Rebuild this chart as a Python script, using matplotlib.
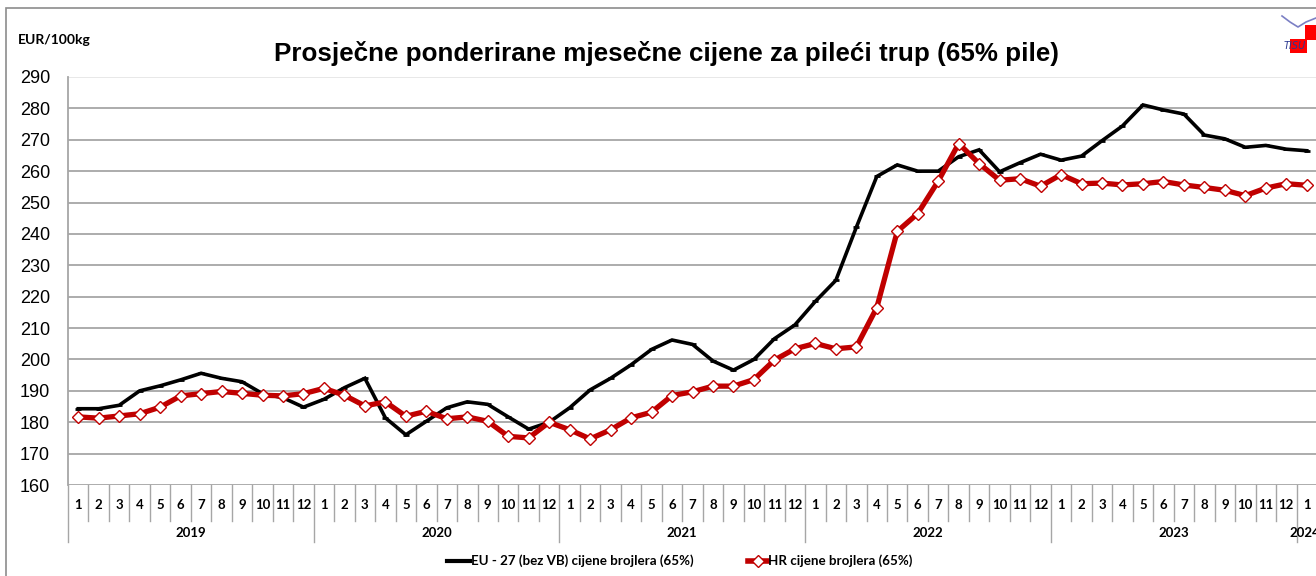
import matplotlib
matplotlib.use("Agg")
import matplotlib.pyplot as plt
from matplotlib.patches import Rectangle
from matplotlib.lines import Line2D

years = ["2019", "2020", "2021", "2022", "2023", "2024"]
months_per_year = [12, 12, 12, 12, 12, 1]
month_labels = [str(m) for n in months_per_year for m in range(1, n + 1)]

eu = [184.3, 184.3, 185.4, 190.0, 191.6, 193.5, 195.6, 194.0, 192.9, 189.1, 187.8, 184.8,
      187.3, 191.0, 194.0, 181.4, 176.0, 180.3, 184.6, 186.5, 185.7, 181.7, 177.8, 180.0,
      184.6, 190.3, 194.0, 198.3, 203.2, 206.2, 204.8, 199.5, 196.6, 200.0, 206.6, 211.0,
      218.5, 225.2, 242.1, 258.3, 262.0, 260.0, 260.0, 264.6, 266.8, 259.8, 262.7, 265.4,
      263.5, 264.8, 269.7, 274.4, 281.1, 279.5, 278.2, 271.5, 270.3, 267.6, 268.2, 267.0,
      266.5]
hr = [181.7, 181.3, 182.0, 182.7, 184.8, 188.4, 189.1, 189.8, 189.2, 188.6, 188.4, 189.1,
      190.8, 188.6, 185.2, 186.5, 181.9, 183.5, 181.1, 181.7, 180.3, 175.5, 175.0, 180.0,
      177.6, 174.7, 177.6, 181.4, 183.2, 188.5, 189.7, 191.5, 191.5, 193.6, 199.8, 203.4,
      205.1, 203.4, 204.0, 216.5, 240.8, 246.5, 256.8, 268.8, 262.4, 257.1, 257.6, 255.2,
      258.9, 256.0, 256.2, 255.6, 256.0, 256.7, 255.6, 254.8, 253.9, 252.2, 254.6, 256.0,
      255.5]
yticks = list(range(160, 291, 10))

title = "Prosječne ponderirane mjesečne cijene za pileći trup (65% pile)"
unit = "EUR/100kg"
eu_label = "EU - 27 (bez VB) cijene brojlera (65%)"
hr_label = "HR cijene brojlera (65%)"

W, H = 1316, 576
fig = plt.figure(figsize=(W / 100, H / 100), dpi=100)
fig.patch.set_facecolor("white")

# axes geometry in pixels
L, R, T, B = 68, 1317, 77, 485
ax = fig.add_axes([L / W, 1 - B / H, (R - L) / W, (B - T) / H])
n = len(eu)
x = list(range(n))
ax.set_xlim(-0.5, n - 0.5)
ax.set_ylim(160, 290)

grid_c = "#A6A6A6"
for v in yticks:
    ax.axhline(v, color=grid_c if v < 290 else "#E6E6E6", lw=1.3, zorder=1)

ax.plot(x, eu, color="black", lw=2.6, marker="_", ms=5, mew=2, zorder=3,
        solid_joinstyle="miter")
ax.plot(x, hr, color="#C00000", lw=3.8, marker="D", ms=6, mfc="white",
        mec="#C00000", mew=1.0, zorder=4)

for s in ["top", "right", "bottom"]:
    ax.spines[s].set_visible(False)
ax.spines["left"].set_color(grid_c)
ax.spines["left"].set_linewidth(1.3)
ax.set_yticks(yticks)
ax.tick_params(axis="y", length=0, pad=13, labelsize=13)
for lbl in ax.get_yticklabels():
    lbl.set_fontfamily("Liberation Sans")
ax.set_xticks([])

# multi-level category axis
h_ax = B - T
def fy(py):
    return (B - py) / h_ax

tr = ax.get_xaxis_transform()
sep_c = "#A6A6A6"
year_bounds = []
start = 0
for n_m in months_per_year:
    year_bounds.append((start, start + n_m))
    start += n_m

for i in range(n):
    xb = i - 0.5
    is_year = any(i == a for a, b in year_bounds)
    y_low = fy(542) if is_year else fy(521)
    ax.plot([xb, xb], [0, y_low], transform=tr, color=sep_c, lw=1.0,
            clip_on=False, zorder=2)

for i, lab in enumerate(month_labels):
    ax.text(i, fy(505), lab, transform=tr, ha="center", va="center",
            fontsize=9.5, fontweight="bold", family="Lato")

for (a, b), yr in zip(year_bounds, years):
    xc = (a + b - 1) / 2
    if b - a == 1:
        ax.text(a - 0.85, fy(533), yr, transform=tr, ha="left", va="center",
                fontsize=9.5, fontweight="bold", family="Lato", clip_on=False)
    else:
        ax.text(xc, fy(533), yr, transform=tr, ha="center", va="center",
                fontsize=9.5, fontweight="bold", family="Lato")

# title and unit
fig.text(666 / W, 1 - 53 / H, title, ha="center", va="center", fontsize=18.7,
         fontweight="bold", family="Liberation Sans")
fig.text(18 / W, 1 - 40 / H, unit, ha="left", va="center", fontsize=10,
         fontweight="bold", family="Lato")

# legend (drawn manually to match positions)
ly = 1 - 561 / H
fig.lines.append(Line2D([447 / W, 470 / W], [ly, ly], transform=fig.transFigure,
                        color="black", lw=3))
fig.text(471 / W, ly, eu_label, ha="left", va="center", fontsize=9.6,
         fontweight="bold", family="Lato")
fig.lines.append(Line2D([748 / W, 767 / W], [ly, ly], transform=fig.transFigure,
                        color="#C00000", lw=4))
fig.lines.append(Line2D([757.5 / W], [ly], transform=fig.transFigure,
                        color="#C00000", lw=0, marker="D", ms=6, mfc="white",
                        mec="#C00000", mew=1))
fig.text(768 / W, ly, hr_label, ha="left", va="center", fontsize=9.6,
         fontweight="bold", family="Lato")

# outer border
fig.patches.append(Rectangle((6 / W, -0.1), 1.2, 1 - 8 / H + 0.1,
                             transform=fig.transFigure, fill=False,
                             edgecolor="#8C8C8C", lw=1.2))

# logo approximation (top right)
fig.patches.append(Rectangle((1305 / W, 1 - 40 / H), 14 / W, 15 / H,
                             transform=fig.transFigure, color="#FF0000", lw=0))
fig.patches.append(Rectangle((1290 / W, 1 - 53 / H), 17 / W, 14 / H,
                             transform=fig.transFigure, color="#FF0000", lw=0))
fig.lines.append(Line2D([1282 / W, 1290 / W, 1298 / W, 1306 / W, 1316 / W],
                        [1 - 16 / H, 1 - 22 / H, 1 - 27 / H, 1 - 22 / H, 1 - 18 / H],
                        transform=fig.transFigure, color="#7B7FC4", lw=1.2))
fig.text(1284 / W, 1 - 46 / H, "TISU", fontsize=7, style="italic",
         color="#2B3990", ha="left", va="center", family="DejaVu Sans")

fig.savefig("out.png", dpi=100, facecolor="white")
